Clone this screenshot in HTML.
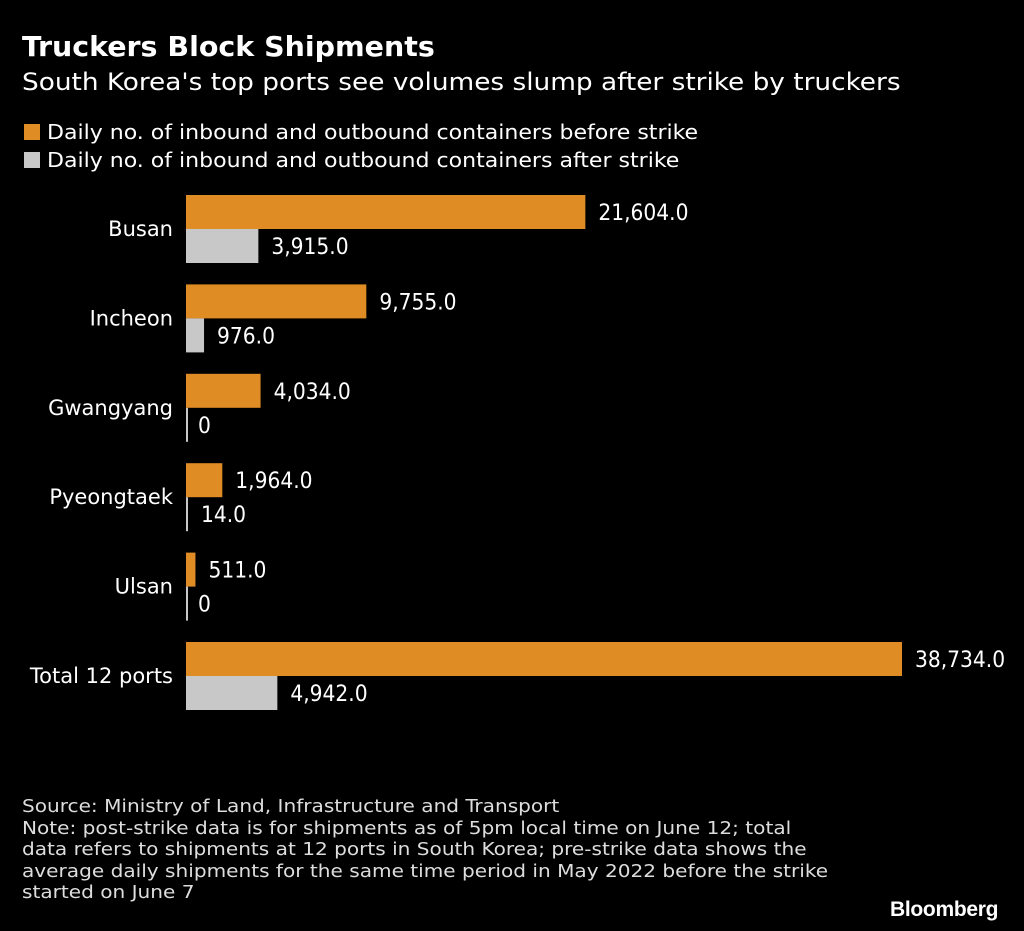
<!DOCTYPE html>
<html><head><meta charset="utf-8"><style>
body{margin:0;background:#000;width:1024px;height:931px;overflow:hidden;font-family:"DejaVu Sans Condensed","Liberation Sans Narrow","Liberation Sans",sans-serif;color:#fff}
.t{position:absolute;white-space:nowrap;transform-origin:left top}
</style></head><body>
<div class="t" style="left:22px;top:30px;font-size:28px;font-weight:bold;transform:scaleX(1.13)">Truckers Block Shipments</div>
<div class="t" style="left:22px;top:68px;font-size:24px;transform:scaleX(1.22)">South Korea's top ports see volumes slump after strike by truckers</div>
<div class="t" style="left:24px;top:120px;font-size:20px"><span style="display:inline-block;width:16px;height:16px;background:#e08c25;margin-right:7px;vertical-align:-1px"></span><span style="display:inline-block;transform:scaleX(1.225);transform-origin:left">Daily no. of inbound and outbound containers before strike</span></div>
<div class="t" style="left:24px;top:148px;font-size:20px"><span style="display:inline-block;width:16px;height:16px;background:#c8c8c8;margin-right:7px;vertical-align:-1px"></span><span style="display:inline-block;transform:scaleX(1.225);transform-origin:left">Daily no. of inbound and outbound containers after strike</span></div>
<svg id="chart" width="1024" height="931" style="position:absolute;left:0;top:0"></svg>
<div class="t" style="left:22px;top:796px;font-size:18px;line-height:21.5px;color:#ddd;transform:scaleX(1.24)">Source: Ministry of Land, Infrastructure and Transport<br>Note: post-strike data is for shipments as of 5pm local time on June 12; total<br>data refers to shipments at 12 ports in South Korea; pre-strike data shows the<br>average daily shipments for the same time period in May 2022 before the strike<br>started on June 7</div>
<div class="t" style="left:890px;top:898px;font-size:21px;font-weight:bold;font-family:'Liberation Sans',sans-serif;letter-spacing:-0.3px">Bloomberg</div>
<script>
const categories=["Busan","Incheon","Gwangyang","Pyeongtaek","Ulsan","Total 12 ports"];
const before=[21604,9755,4034,1964,511,38734];
const after=[3915,976,0,14,0,4942];
const ns="http://www.w3.org/2000/svg";
const svg=document.getElementById('chart');
const x0=186,scale=(902-186)/38734;
const xs=v=>Math.max(2,v*scale);
const yTop=i=>195+i*89.4;
const bh=34;
const fmt=v=>v===0?"0":v.toLocaleString('en-US',{minimumFractionDigits:1,maximumFractionDigits:1});
function mk(tag,attrs){const e=document.createElementNS(ns,tag);for(const k in attrs)e.setAttribute(k,attrs[k]);svg.appendChild(e);return e;}
categories.forEach((c,i)=>{
  const y=yTop(i);
  const l=mk('text',{x:173,y:y+bh+7,'text-anchor':'end',fill:'#fff','font-size':21,'font-family':'DejaVu Sans, sans-serif'});
  l.textContent=c;
  
  
  const b1=mk('rect',{x:x0,y:y,width:xs(before[i]),height:bh,fill:'#e08c25'});
  
  
  const t1=mk('text',{x:x0+xs(before[i])+13,y:y+bh/2+8,fill:'#fff','font-size':22.5});
  t1.textContent=fmt(before[i]);
  
  
  const b2=mk('rect',{x:x0,y:y+bh,width:xs(after[i]),height:bh,fill:'#c8c8c8'});
  
  
  const t2=mk('text',{x:x0+xs(after[i])+(after[i]===0?10:13),y:y+bh*1.5+8,fill:'#fff','font-size':22.5});
  t2.textContent=fmt(after[i]);
  
  
});
</script>
</body></html>
